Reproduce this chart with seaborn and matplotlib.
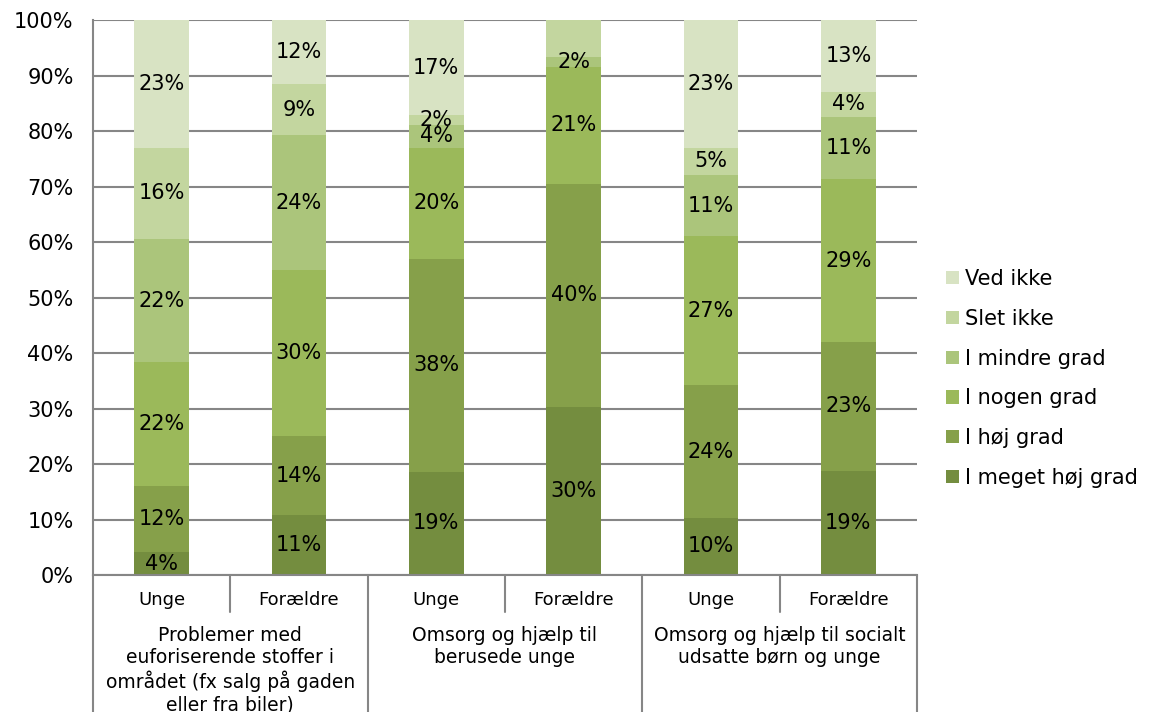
import numpy as np
import pandas as pd
import seaborn as sns
import matplotlib.pyplot as plt
import matplotlib.transforms as mtransforms

# data (andele i %)
bars = ["p_unge", "p_foraeldre", "b_unge", "b_foraeldre", "s_unge", "s_foraeldre"]
sub_labels = ["Unge", "Forældre", "Unge", "Forældre", "Unge", "Forældre"]
groups = [
    "Problemer med\neuforiserende stoffer i\nområdet (fx salg på gaden\neller fra biler)",
    "Omsorg og hjælp til\nberusede unge",
    "Omsorg og hjælp til socialt\nudsatte børn og unge",
]
series = ["I meget høj grad", "I høj grad", "I nogen grad", "I mindre grad", "Slet ikke", "Ved ikke"]
meget_hoej = [4.1, 10.8, 18.6, 30.3, 10.3, 18.8]
hoej = [12.0, 14.2, 38.4, 40.2, 23.9, 23.2]
nogen = [22.2, 30.0, 20.0, 21.0, 26.8, 29.3]
mindre = [22.3, 24.2, 4.1, 1.8, 11.1, 11.3]
slet_ikke = [16.4, 9.3, 1.7, 6.7, 4.9, 4.4]
ved_ikke = [23.0, 11.5, 17.2, 0.0, 23.0, 13.0]
# labels som ikke vises i originalen
hidden = {("Slet ikke", 3), ("Ved ikke", 3)}

colors = ["#748d3f", "#86a04a", "#9bb95a", "#abc57b", "#c3d69f", "#d8e3c3"]

df = pd.DataFrame({"bar": bars})
for name, vals in zip(series, [meget_hoej, hoej, nogen, mindre, slet_ikke, ved_ikke]):
    df[name] = vals

sns.set_style("white")
plt.rcParams["font.family"] = ["DejaVu Sans"]
plt.rcParams["font.size"] = 15
plt.rcParams["text.color"] = "black"
plt.rcParams["ytick.color"] = "black"

fig = plt.figure(figsize=(11.52, 7.12), dpi=100)
ax = fig.add_axes([0.0807, 0.1924, 0.7153, 0.7795])

bottom = np.zeros(len(bars))
for name, col in zip(series, colors):
    sns.barplot(data=df, x="bar", y=name, order=bars, color=col, width=0.4,
                bottom=bottom, label=name, errorbar=None, linewidth=0,
                saturation=1, ax=ax)
    cont = ax.containers[-1]
    labs = []
    for i, v in enumerate(df[name]):
        if (name, i) in hidden or v <= 0:
            labs.append("")
        else:
            labs.append(f"{round(v):.0f}%")
    ax.bar_label(cont, labels=labs, label_type="center", fontsize=15, color="black")
    bottom = bottom + df[name].values

ax.set_ylim(0, 100)
ax.set_xlim(-0.5, len(bars) - 0.5)
ax.set_yticks(np.arange(0, 101, 10))
ax.set_yticklabels([f"{t}%" for t in range(0, 101, 10)])
ax.set_xticks([])
ax.set_xlabel("")
ax.set_ylabel("")
ax.yaxis.grid(True, color="#868686", linewidth=1.5)
ax.set_axisbelow(True)
for s in ["top", "right"]:
    ax.spines[s].set_visible(False)
for s in ["left", "bottom"]:
    ax.spines[s].set_color("#868686")
    ax.spines[s].set_linewidth(1.5)
ax.tick_params(axis="y", length=6, color="#868686", width=1.5, pad=8,
               labelsize=15, labelcolor="black")

# kategoriakse i to niveauer
trans = mtransforms.blended_transform_factory(ax.transData, ax.transAxes)
for i, lab in enumerate(sub_labels):
    ax.text(i, -0.045, lab, transform=trans, ha="center", va="center",
            fontsize=13, color="black")
for j in range(len(bars) + 1):
    x = j - 0.5
    y0 = -0.247 if j % 2 == 0 else -0.067
    ax.plot([x, x], [0, y0], transform=trans, color="#868686", lw=1.5, clip_on=False)
for g, txt in enumerate(groups):
    ax.text(2 * g + 0.5, -0.092, txt, transform=trans, ha="center", va="top",
            fontsize=13.5, linespacing=1.2, color="black")

handles, labels = ax.get_legend_handles_labels()
leg = ax.legend(handles[::-1], labels[::-1], loc="center left",
                bbox_to_anchor=(1.023, 0.354), frameon=False, fontsize=15,
                handlelength=0.6, handleheight=0.6, handletextpad=0.3,
                labelspacing=0.95, borderpad=0)
for t in leg.get_texts():
    t.set_color("black")

fig.savefig("out.png", dpi=100)
